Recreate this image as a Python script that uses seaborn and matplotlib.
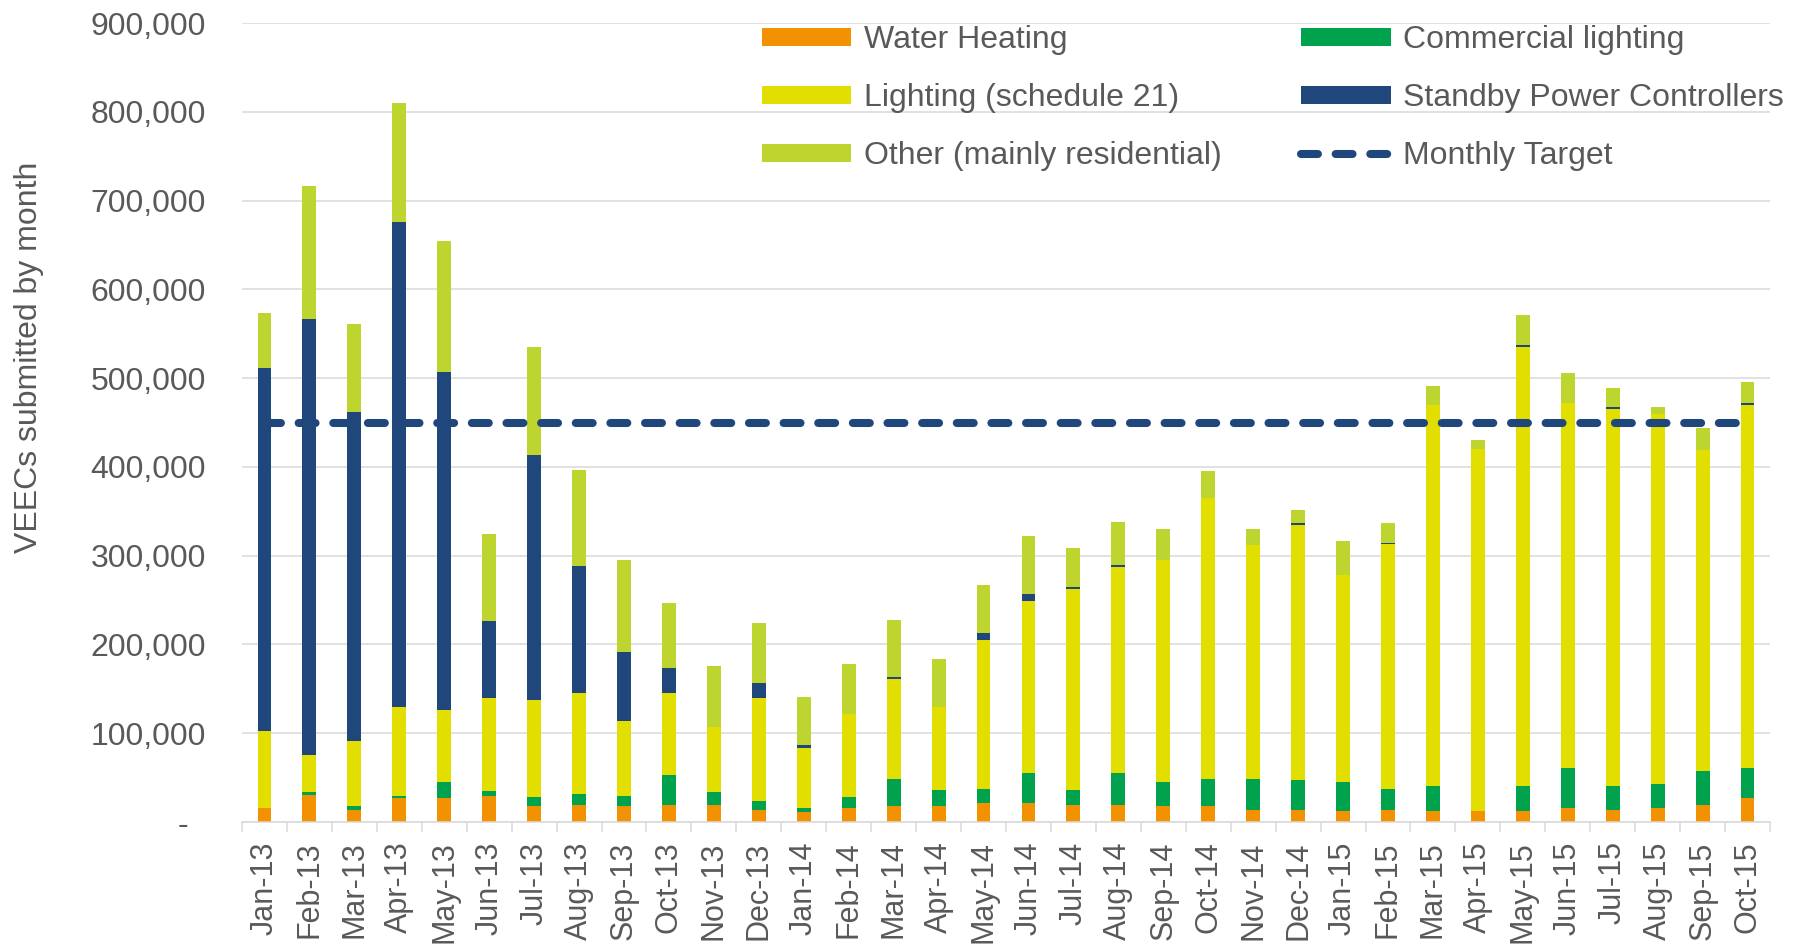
import numpy as np
import pandas as pd
import matplotlib
matplotlib.use("Agg")
import matplotlib.pyplot as plt
from matplotlib.patches import Patch
from matplotlib.lines import Line2D
from matplotlib.ticker import FuncFormatter, FixedLocator
import seaborn as sns

# ---------------- data ----------------
months = ["Jan-13", "Feb-13", "Mar-13", "Apr-13", "May-13", "Jun-13", "Jul-13", "Aug-13",
          "Sep-13", "Oct-13", "Nov-13", "Dec-13", "Jan-14", "Feb-14", "Mar-14", "Apr-14",
          "May-14", "Jun-14", "Jul-14", "Aug-14", "Sep-14", "Oct-14", "Nov-14", "Dec-14",
          "Jan-15", "Feb-15", "Mar-15", "Apr-15", "May-15", "Jun-15", "Jul-15", "Aug-15",
          "Sep-15", "Oct-15"]

water_heating = [15700, 30700, 13900, 27000, 27000, 29200, 17600, 19500,
                 17600, 19500, 19500, 13900, 11600, 15400, 17600, 17600,
                 21300, 21300, 19500, 19500, 17600, 17600, 13900, 13900,
                 12000, 13900, 12000, 12000, 12000, 15700, 13900, 15700,
                 19500, 27000]

commercial_lighting = [0, 3000, 4500, 2600, 18000, 6000, 10100, 12000,
                       12000, 33300, 13800, 10100, 4100, 12300, 31100, 18000,
                       15800, 33400, 16100, 35200, 27400, 31100, 34800, 32900,
                       33000, 23200, 28800, 0, 28800, 44600, 26900, 27300,
                       38500, 33300]

lighting_sched21 = [86900, 42000, 73000, 100400, 80800, 104100, 109800, 113500,
                    84600, 92200, 73400, 115300, 68200, 94000, 112000, 94400,
                    167800, 194700, 227300, 232900, 250500, 316500, 262900, 287200,
                    233700, 275600, 429000, 408600, 494400, 411300, 424400, 417000,
                    360900, 409500]

standby_power = [408400, 491300, 370100, 545800, 381000, 86700, 275500, 143000,
                 77600, 29000, 0, 17700, 3000, 0, 3000, 0,
                 7500, 7900, 2000, 2300, 0, 0, 0, 2700,
                 0, 1900, 0, 0, 2600, 0, 2300, 0,
                 0, 2500]

other_residential = [62000, 149000, 99300, 134000, 147500, 98700, 122500, 108000,
                     103700, 73200, 69000, 67300, 54300, 56200, 64300, 53500,
                     54300, 65200, 44200, 48300, 34800, 30700, 18400, 15000,
                     38200, 21700, 21100, 9800, 33200, 34400, 21200, 8000,
                     25200, 23000]

monthly_target = [450000] * len(months)

series_names = ["Water Heating", "Commercial lighting", "Lighting (schedule 21)",
                "Standby Power Controllers", "Other (mainly residential)"]
series_values = [water_heating, commercial_lighting, lighting_sched21,
                 standby_power, other_residential]
series_colors = ["#F39200", "#00A24E", "#E1DE00", "#1F477B", "#BDD52E"]
target_color = "#1F477B"

ytick_values = [0, 100000, 200000, 300000, 400000, 500000, 600000, 700000, 800000, 900000]

# ---------------- style ----------------
sns.set_theme(style="white")
plt.rcParams["font.family"] = ["Liberation Sans", "DejaVu Sans"]
text_color = "#595959"
grid_color = "#D9D9D9"
fs = 23

W, H, DPI = 1796, 948, 100
fig = plt.figure(figsize=(W / DPI, H / DPI), dpi=DPI)
ax = fig.add_axes([242 / W, 1 - 822 / H, (1770 - 242) / W, (822 - 23) / H])

df = pd.DataFrame({"month": months})
cum = np.zeros(len(months))
cums = []
for vals in series_values:
    cum = cum + np.asarray(vals, dtype=float)
    cums.append(cum.copy())

# draw from the top of the stack downward so each lower layer overlays the one above
for name, color, c in reversed(list(zip(series_names, series_colors, cums))):
    d = df.copy()
    d["value"] = c
    sns.barplot(data=d, x="month", y="value", order=months, color=color,
                saturation=1, errorbar=None, width=0.31, linewidth=0, ax=ax)

# monthly target dashed line
sns.lineplot(x=np.arange(len(months)), y=monthly_target, sort=False, ax=ax,
             color=target_color, linewidth=5.8, linestyle=(0, (2.1, 2.2)),
             dash_capstyle="round", legend=False)

ax.set_xlim(-0.5, len(months) - 0.5)
ax.set_ylim(0, 900000)
ax.set_axisbelow(True)

# y axis
ax.yaxis.set_major_locator(FixedLocator(ytick_values))
ax.yaxis.set_major_formatter(FuncFormatter(lambda v, p: "-  " if v == 0 else f"{v:,.0f}"))
ax.tick_params(axis="y", length=0, pad=26, labelsize=fs, labelcolor=text_color)
ax.grid(axis="y", color=grid_color, linewidth=1.1)
ax.grid(axis="x", visible=False)

# x axis
ax.set_xticks(np.arange(len(months)))
ax.set_xticklabels(months, rotation=90)
ax.set_xticks(np.arange(len(months) + 1) - 0.5, minor=True)
ax.tick_params(axis="x", which="major", length=0, pad=14, labelsize=fs - 1,
               labelcolor=text_color)
ax.tick_params(axis="x", which="minor", length=7, width=1.1, color=grid_color,
               direction="out", bottom=True)
ax.set_xlabel("")

for side in ["top", "right", "left"]:
    ax.spines[side].set_visible(False)
ax.spines["bottom"].set_color(grid_color)
ax.spines["bottom"].set_linewidth(1.1)

ax.set_ylabel("VEECs submitted by month", fontsize=fs, color=text_color, va="center")
ax.yaxis.set_label_coords(-0.1394, 0.582)

# legend
handles = [
    Patch(facecolor=series_colors[0], edgecolor="none", label=series_names[0]),
    Patch(facecolor=series_colors[2], edgecolor="none", label=series_names[2]),
    Patch(facecolor=series_colors[4], edgecolor="none", label=series_names[4]),
    Patch(facecolor=series_colors[1], edgecolor="none", label=series_names[1]),
    Patch(facecolor=series_colors[3], edgecolor="none", label=series_names[3]),
    Line2D([0], [0], color=target_color, linewidth=5.8, linestyle=(0, (2.1, 2.2)),
           dash_capstyle="round", label="Monthly Target"),
]
leg = fig.legend(handles=handles, ncol=2, loc="upper left",
                 bbox_to_anchor=(762 / W, 1 - 25 / H), frameon=False,
                 fontsize=fs, handlelength=2.8, handleheight=0.5,
                 handletextpad=0.38, columnspacing=2.5, labelspacing=0.88,
                 borderpad=0, borderaxespad=0)
for t in leg.get_texts():
    t.set_color(text_color)

fig.savefig("out.png", dpi=DPI, facecolor="white")
